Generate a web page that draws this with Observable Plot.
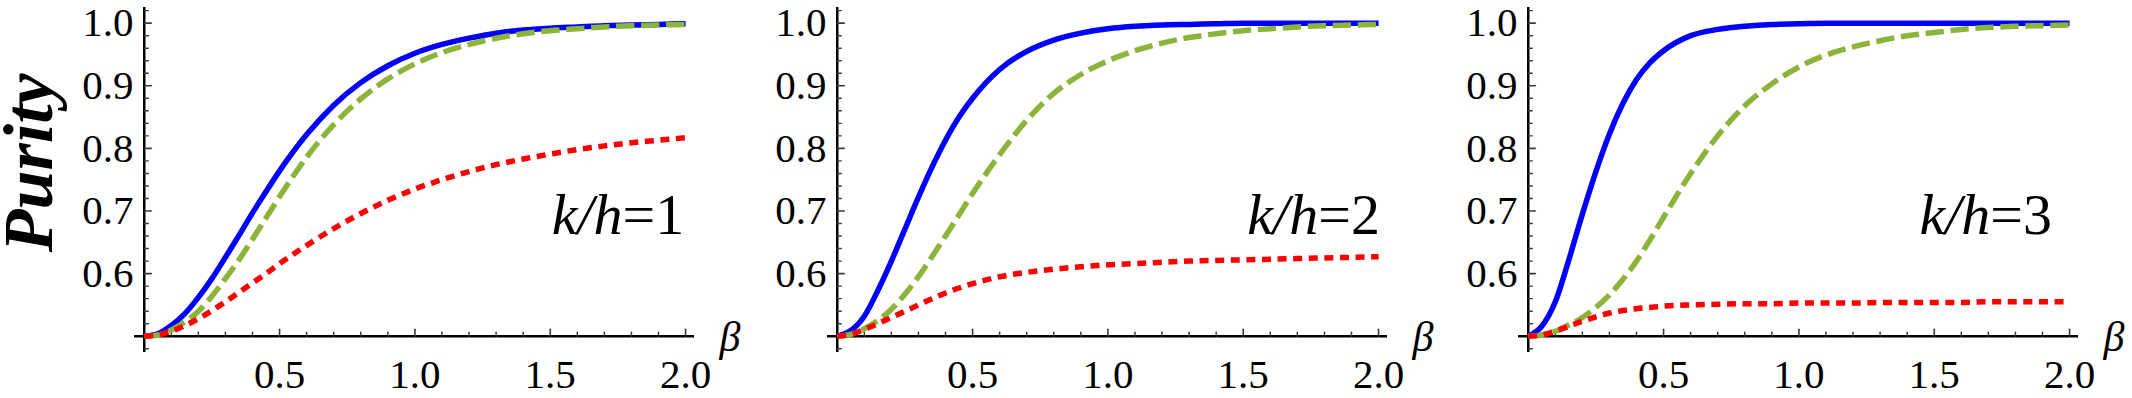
<!DOCTYPE html>
<html>
<head>
<meta charset="utf-8">
<script src="https://cdn.jsdelivr.net/npm/d3@7"></script>
<script src="https://cdn.jsdelivr.net/npm/@observablehq/plot@0.6"></script>
<style>
html, body { margin: 0; padding: 0; background: #ffffff; }
#row { display: flex; width: 2132px; height: 398px; overflow: hidden; }
#row svg { display: block; flex: none; }
</style>
</head>
<body>
<div id="row"></div>
<script>
// ---------------- data ----------------
const beta = [0, 0.05, 0.1, 0.15, 0.2, 0.25, 0.3, 0.35, 0.4, 0.45, 0.5,
              0.6, 0.7, 0.8, 0.9, 1.0, 1.1, 1.2, 1.3, 1.4, 1.5, 1.6, 1.7, 1.8, 1.9, 2.0];

// k/h = 1
const p1Blue  = [0.500, 0.504, 0.517, 0.536, 0.562, 0.592, 0.626, 0.661, 0.697, 0.731, 0.764,
                 0.822, 0.869, 0.905, 0.932, 0.952, 0.966, 0.976, 0.984, 0.989, 0.992, 0.994, 0.996, 0.997, 0.998, 0.999];
const p1Green = [0.500, 0.502, 0.510, 0.523, 0.540, 0.564, 0.592, 0.622, 0.655, 0.689, 0.723,
                 0.786, 0.838, 0.879, 0.911, 0.935, 0.953, 0.966, 0.976, 0.983, 0.988, 0.991, 0.994, 0.996, 0.997, 0.998];
const p1Red   = [0.500, 0.502, 0.508, 0.517, 0.528, 0.541, 0.555, 0.570, 0.585, 0.600, 0.616,
                 0.645, 0.672, 0.696, 0.717, 0.735, 0.750, 0.763, 0.774, 0.783, 0.791, 0.798, 0.804, 0.809, 0.813, 0.817];

// k/h = 2
const p2Blue  = [0.500, 0.509, 0.532, 0.573, 0.620, 0.671, 0.722, 0.770, 0.813, 0.850, 0.880,
                 0.926, 0.955, 0.973, 0.984, 0.991, 0.995, 0.997, 0.998, 0.999, 1.000, 1.000, 1.000, 1.000, 1.000, 1.000];
const p2Green = [0.500, 0.503, 0.512, 0.525, 0.543, 0.567, 0.595, 0.627, 0.660, 0.694, 0.728,
                 0.790, 0.845, 0.888, 0.918, 0.940, 0.956, 0.968, 0.977, 0.983, 0.988, 0.991, 0.994, 0.996, 0.997, 0.998];
const p2Red   = [0.500, 0.503, 0.511, 0.520, 0.530, 0.540, 0.550, 0.560, 0.569, 0.577, 0.584,
                 0.595, 0.602, 0.607, 0.611, 0.614, 0.616, 0.618, 0.620, 0.621, 0.622, 0.623, 0.624, 0.625, 0.626, 0.627];

// k/h = 3
const p3Blue  = [0.500, 0.516, 0.555, 0.622, 0.695, 0.763, 0.823, 0.872, 0.910, 0.937, 0.956,
                 0.980, 0.990, 0.995, 0.998, 0.999, 1.000, 1.000, 1.000, 1.000, 1.000, 1.000, 1.000, 1.000, 1.000, 1.000];
const p3Green = [0.500, 0.502, 0.508, 0.518, 0.530, 0.546, 0.566, 0.591, 0.620, 0.654, 0.690,
                 0.760, 0.820, 0.868, 0.903, 0.930, 0.949, 0.962, 0.972, 0.980, 0.985, 0.990, 0.993, 0.995, 0.996, 0.997];
const p3Red   = [0.500, 0.502, 0.508, 0.516, 0.524, 0.531, 0.537, 0.541, 0.544, 0.546, 0.548,
                 0.550, 0.551, 0.552, 0.552, 0.553, 0.553, 0.553, 0.554, 0.554, 0.554, 0.554, 0.555, 0.555, 0.555, 0.555];

const panelLabels = ["k/h=1", "k/h=2", "k/h=3"];
const panelLabelX = [1.995, 2.005, 1.935];
const panelLabelY = [0.664, 0.664, 0.664];

const xTickLabels = [0.5, 1.0, 1.5, 2.0];
const xMinorTicks = [0.1, 0.2, 0.3, 0.4, 0.6, 0.7, 0.8, 0.9, 1.1, 1.2, 1.3, 1.4, 1.6, 1.7, 1.8, 1.9];
const yTickLabels = [0.6, 0.7, 0.8, 0.9, 1.0];
const yMinorTicks = [0.48, 0.52, 0.54, 0.56, 0.58, 0.62, 0.64, 0.66, 0.68, 0.72, 0.74, 0.76, 0.78,
                     0.82, 0.84, 0.86, 0.88, 0.92, 0.94, 0.96, 0.98, 1.02];
const xDomain = [-0.036, 2.033];
const yDomain = [0.474, 1.025];
const origin = {x: 0, y: 0.5};
const yTitle = "Purity";
const yTitleAt = 0.777;
const xTitle = "β";

// ---------------- styles / layout ----------------
const font = "Liberation Serif";
const seriesStyle = [
  {key: "blue",  color: "#0000ff", dash: null},
  {key: "green", color: "#8db43a", dash: "18.3 6.7"},
  {key: "red",   color: "#ff0000", dash: "9 6.6"}
];
const panelValues = [
  [p1Blue, p1Green, p1Red],
  [p2Blue, p2Green, p2Red],
  [p3Blue, p3Green, p3Red]
];
const layout = [
  {width: 760, marginLeft: 134, marginRight: 66},
  {width: 693, marginLeft: 67,  marginRight: 66},
  {width: 679, marginLeft: 65,  marginRight: 54}
];
const tickShape = {draw(context, l) { context.moveTo(0, 0); context.lineTo(0, -l); }};
const fmt = d3.format(".1f");
const tickColor = "#3a3a3a";

function panel(i) {
  const cfg = layout[i];
  const rows = [];
  seriesStyle.forEach((s, j) => {
    panelValues[i][j].forEach((v, k) => rows.push({beta: beta[k], value: v, series: s.key}));
  });
  const marks = [
    Plot.ruleY([origin.y], {stroke: "black", strokeWidth: 2.5}),
    Plot.ruleX([origin.x], {stroke: "black", strokeWidth: 2.5}),
    Plot.vector(xMinorTicks, {x: d => d, y: () => origin.y, length: 4, rotate: 0, anchor: "start",
      shape: tickShape, stroke: tickColor, strokeWidth: 1.4}),
    Plot.vector(xTickLabels, {x: d => d, y: () => origin.y, length: 7, rotate: 0, anchor: "start",
      shape: tickShape, stroke: tickColor, strokeWidth: 1.6}),
    Plot.vector(yMinorTicks, {x: () => origin.x, y: d => d, length: 4, rotate: 90, anchor: "start",
      shape: tickShape, stroke: tickColor, strokeWidth: 1.4}),
    Plot.vector(yTickLabels, {x: () => origin.x, y: d => d, length: 7, rotate: 90, anchor: "start",
      shape: tickShape, stroke: tickColor, strokeWidth: 1.6}),
    Plot.axisX({ticks: xTickLabels, anchor: "bottom", tickSize: 0, tickPadding: 6, tickFormat: fmt,
      fontSize: 41, fontFamily: font, label: null}),
    Plot.axisY({ticks: yTickLabels, anchor: "left", tickSize: 0, tickPadding: 1, tickFormat: fmt,
      fontSize: 41, fontFamily: font, label: null}),
    ...seriesStyle.map(s => Plot.line(rows.filter(r => r.series === s.key), {
      x: "beta", y: "value", stroke: s.color, strokeWidth: 5.5,
      strokeDasharray: s.dash, strokeLinecap: "butt", curve: "monotone-x"
    })),
    Plot.text([panelLabels[i]], {x: () => panelLabelX[i], y: () => panelLabelY[i], text: d => d,
      textAnchor: "end", lineAnchor: "bottom", fontSize: 58, fontFamily: font}),
    Plot.text([xTitle], {frameAnchor: "right", y: () => origin.y, text: d => d, dx: 25, dy: 15,
      textAnchor: "start", lineAnchor: "bottom", fontSize: 42, fontStyle: "italic", fontFamily: font})
  ];
  if (i === 0) {
    marks.push(Plot.text([yTitle], {frameAnchor: "left", y: () => yTitleAt, text: d => d,
      dx: -83, rotate: -90, textAnchor: "middle", lineAnchor: "bottom",
      fontSize: 70, fontWeight: "bold", fontStyle: "italic", fontFamily: font}));
  }
  const svg = Plot.plot({
    width: cfg.width, height: 398,
    marginTop: 7, marginBottom: 46, marginLeft: cfg.marginLeft, marginRight: cfg.marginRight,
    x: {domain: xDomain},
    y: {domain: yDomain},
    style: {background: "white", color: "black", overflow: "visible"},
    marks
  });
  // italic k/h, upright "=n"
  d3.select(svg).selectAll("text").each(function () {
    const t = this.textContent;
    if (t.startsWith("k/h")) {
      this.textContent = "";
      d3.select(this).append("tspan").attr("font-style", "italic").text("k/h");
      d3.select(this).append("tspan").text(t.slice(3));
    }
  });
  return svg;
}

const row = document.getElementById("row");
for (let i = 0; i < 3; i++) row.appendChild(panel(i));
</script>
</body>
</html>
